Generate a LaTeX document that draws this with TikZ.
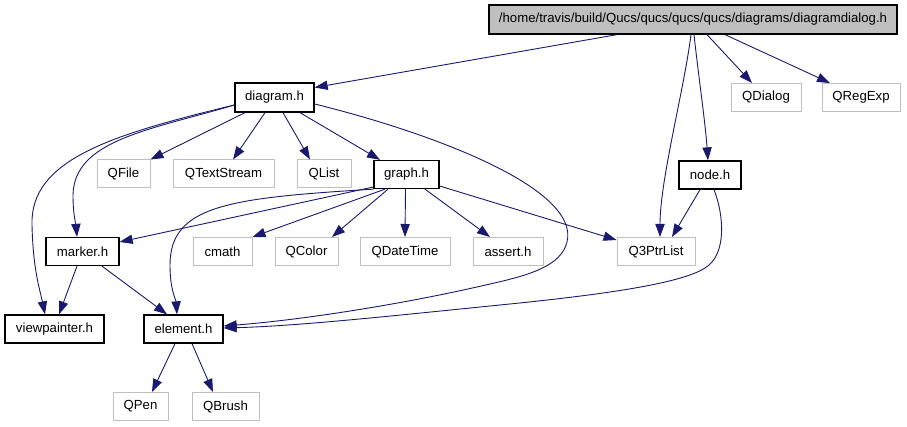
\documentclass[tikz,border=0pt]{standalone}
\usepackage{fontspec}
\setmainfont{Liberation Sans}
\usetikzlibrary{arrows.meta}
\definecolor{edgeblue}{RGB}{25,25,112}
\definecolor{boxgray}{RGB}{191,191,191}
\begin{document}
\begin{tikzpicture}[x=1pt,y=-1pt,
  every node/.style={inner sep=0pt, font=\fontsize{13.2}{15}\selectfont},
  solidbox/.style={draw=black, line width=1.3pt, fill=white, minimum height=28pt},
  extbox/.style={draw=boxgray, line width=1pt, fill=white, minimum height=28pt},
  dep/.style={draw=edgeblue, line width=0.9pt, -{Triangle[length=13pt,width=9.3pt]}},
]
\useasboundingbox (0,0) rectangle (907,427);
% nodes
\node[draw=black, line width=1.3pt, fill=boxgray, minimum width=408pt, minimum height=29pt] (main) at (693,19.5) {/home/travis/build/Qucs/qucs/qucs/qucs/diagrams/diagramdialog.h};
\node[solidbox, minimum width=79pt, minimum height=29pt] (diag) at (274.5,97.5) {diagram.h};
\node[extbox, minimum width=70pt] (qdialog) at (766,97.5) {QDialog};
\node[extbox, minimum width=78pt] (qregexp) at (861,97.5) {QRegExp};
\node[extbox, minimum width=53pt] (qfile) at (123.5,174) {QFile};
\node[extbox, minimum width=101pt] (qts) at (223.5,174) {QTextStream};
\node[extbox, minimum width=54pt] (qlist) at (324,174) {QList};
\node[solidbox, minimum width=65pt] (graph) at (406.5,174.5) {graph.h};
\node[solidbox, minimum width=62pt] (nodeh) at (710,175) {node.h};
\node[solidbox, minimum width=73pt] (marker) at (82.5,251.5) {marker.h};
\node[extbox, minimum width=59pt] (cmath) at (222.5,251.5) {cmath};
\node[extbox, minimum width=63pt] (qcolor) at (306.5,251.5) {QColor};
\node[extbox, minimum width=90pt] (qdt) at (405,251.5) {QDateTime};
\node[extbox, minimum width=70pt] (assert) at (508,251.5) {assert.h};
\node[extbox, minimum width=78pt] (q3) at (656,251.5) {Q3PtrList};
\node[solidbox, minimum width=99pt] (vp) at (54.5,329) {viewpainter.h};
\node[solidbox, minimum width=79pt] (elem) at (183.5,329) {element.h};
\node[extbox, minimum width=55pt] (qpen) at (140.5,406.5) {QPen};
\node[extbox, minimum width=67pt] (qbrush) at (225.5,406.5) {QBrush};
% edges from main
\draw[dep] ([xshift=-76pt]main.south) -- ([yshift=10pt]diag.east);
\draw[dep] ([xshift=-2pt]main.south) .. controls (684,90) and (660,180) .. ([xshift=4pt]q3.north);
\draw[dep] ([xshift=1pt]main.south) .. controls (699,80) and (705,120) .. ([xshift=-2pt]nodeh.north);
\draw[dep] ([xshift=14pt]main.south) -- ([xshift=-14pt]qdialog.north);
\draw[dep] ([xshift=32pt]main.south) -- ([xshift=-31pt]qregexp.north);
% edges from diagram.h
\draw[dep] ([xshift=-29.5pt]diag.south) -- (qfile.north east);
\draw[dep] ([xshift=-9.5pt]diag.south) -- ([xshift=9.5pt]qts.north);
\draw[dep] ([xshift=8.5pt]diag.south) -- ([xshift=-14pt]qlist.north);
\draw[dep] ([xshift=25.5pt]diag.south) -- ([xshift=-26.5pt]graph.north);
\draw[dep] ([yshift=-7.5pt]diag.west) .. controls (110,135) and (30,160) .. (32,225) .. controls (33,270) and (40,290) .. ([xshift=-9.5pt]vp.north);
\draw[dep] ([yshift=-7.5pt]diag.west) .. controls (150,130) and (74,140) .. (73,195) .. controls (73,215) and (76,225) .. ([xshift=-5.5pt]marker.north);
\draw[dep] ([yshift=-6.5pt]diag.east) .. controls (440,135) and (580,190) .. (567,242) .. controls (561,266) and (530,275) .. (490,284) .. controls (400,305) and (300,320) .. ([yshift=3pt]elem.east);
% edges from graph.h
\draw[dep] ([yshift=-12.5pt]graph.west) -- ([yshift=9.5pt]marker.east);
\draw[dep] (graph.south west) .. controls (230,198) and (170,205) .. (170,265) .. controls (170,290) and (176,300) .. ([xshift=-6.5pt]elem.north);
\draw[dep] ([xshift=-21.5pt]graph.south) -- (cmath.north east);
\draw[dep] ([xshift=-18.5pt]graph.south) -- ([xshift=25.5pt]qcolor.north);
\draw[dep] ([xshift=-1pt]graph.south) -- (qdt.north);
\draw[dep] ([xshift=18.5pt]graph.south) -- ([xshift=-18pt]assert.north);
\draw[dep] ([yshift=-11.5pt]graph.east) -- ([yshift=11.5pt]q3.west);
% edges from node.h
\draw[dep] ([xshift=-10pt]nodeh.south) -- ([xshift=16pt]q3.north);
\draw[dep] ([xshift=4pt]nodeh.south) .. controls (724,215) and (727,255) .. (705,268) .. controls (680,284) and (600,295) .. (500,305) .. controls (400,315) and (300,326) .. ([yshift=1pt]elem.east);
% edges from marker.h
\draw[dep] ([xshift=-5.5pt]marker.south) -- ([xshift=4.5pt]vp.north);
\draw[dep] ([xshift=19.5pt]marker.south) -- ([xshift=-16.5pt]elem.north);
% edges from element.h
\draw[dep] ([xshift=-8.5pt]elem.south) -- ([xshift=11.5pt]qpen.north);
\draw[dep] ([xshift=8.5pt]elem.south) -- ([xshift=-12.5pt]qbrush.north);
\end{tikzpicture}
\end{document}
